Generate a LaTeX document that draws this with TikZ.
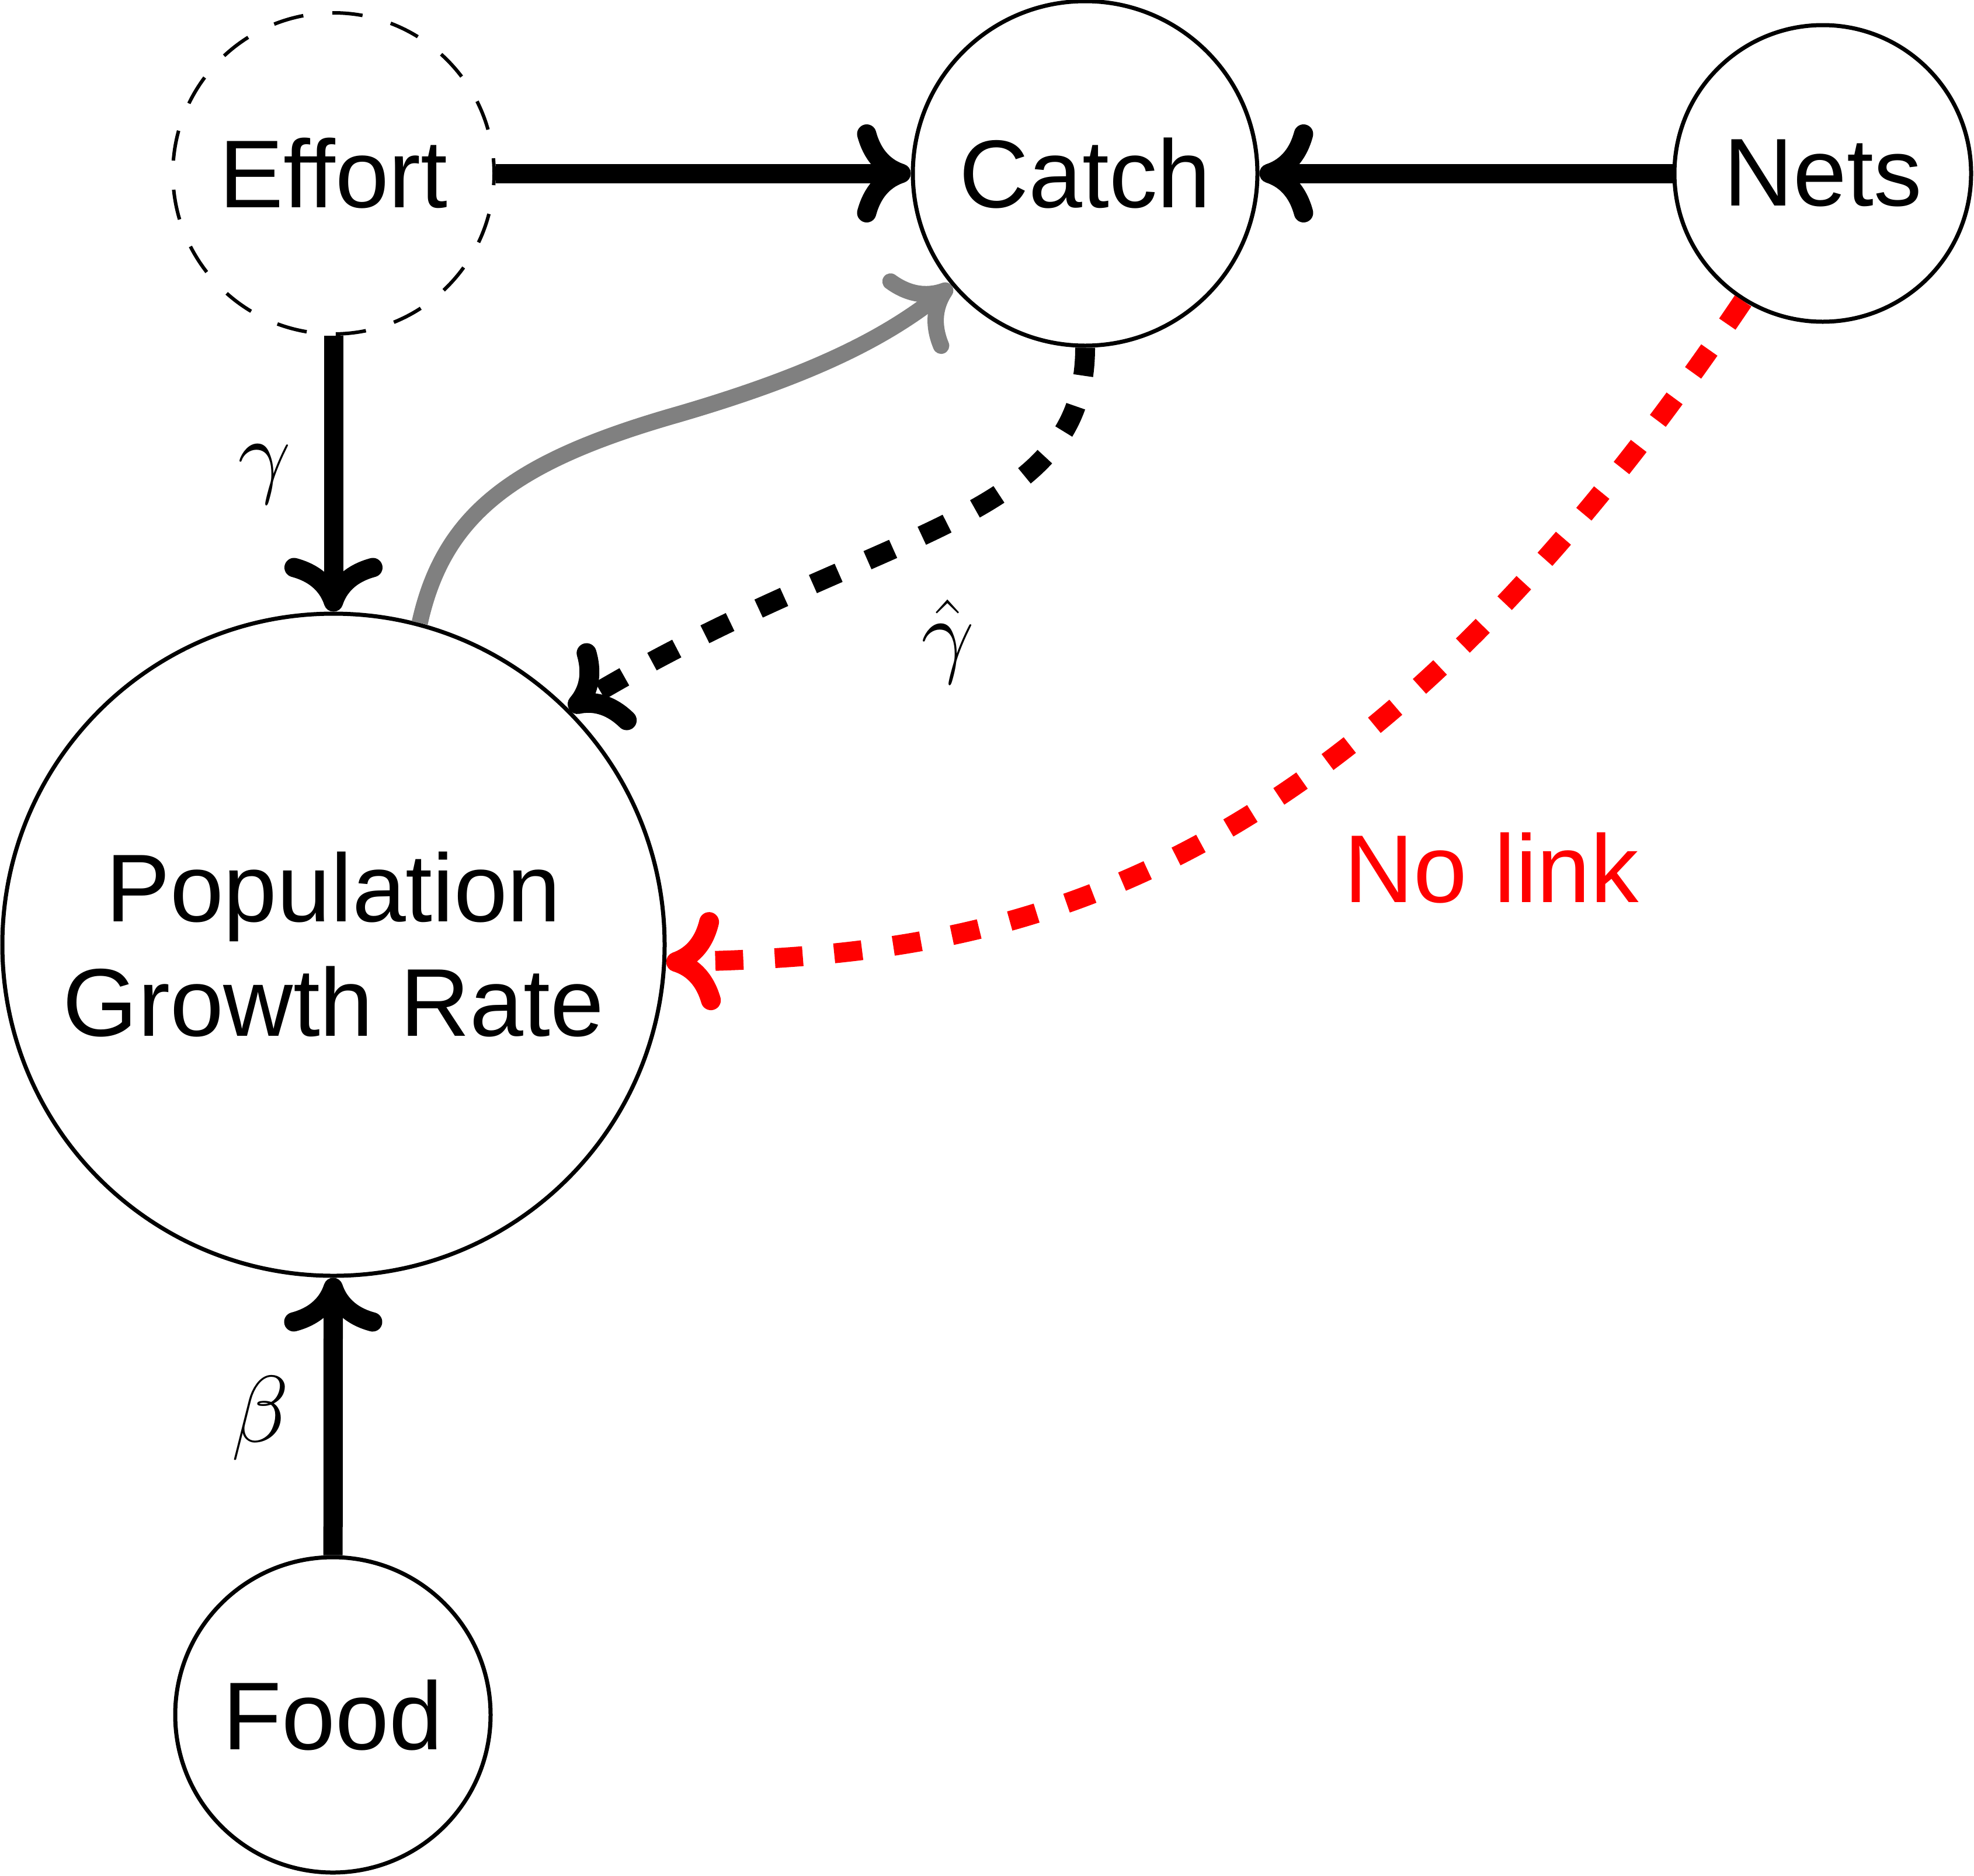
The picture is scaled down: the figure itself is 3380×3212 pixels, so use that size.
\documentclass[tikz,border=0pt]{standalone}
\usepackage{fontspec}
\setmainfont{Liberation Sans}
\usetikzlibrary{arrows.meta}
\begin{document}
\begin{tikzpicture}[x=1pt,y=-1pt,
  every node/.style={font=\fontsize{165}{196}\selectfont},
  vnode/.style={circle, draw, line width=7pt, inner sep=0pt, align=center},
  cmtip/.style={-{Computer Modern Rightarrow[length=92pt,width=168pt]}},
  solidarr/.style={cmtip, line width=33pt},
  greyarr/.style={cmtip, line width=28pt, draw=gray},
  dotarr/.style={cmtip, line width=34pt, dash pattern=on 48pt off 54pt},
  redarr/.style={dotarr, draw=red},
  lbl/.style={inner sep=0pt},
  mlbl/.style={inner sep=0pt, scale=6.51, font=\fontsize{24.88}{30}\selectfont}]
\useasboundingbox (0,0) rectangle (3380,3212);
\node[vnode, minimum size=550pt, line width=6pt, dash pattern=on 52pt off 50pt, dash phase=26pt] (effort) at (571,297) {Effort};
\node[vnode, minimum size=590pt] (catch) at (1858,297) {Catch};
\node[vnode, minimum size=508pt] (nets) at (3121,297) {Nets};
\node[vnode, minimum size=1134pt] (pop) at (571,1618) {Population\\Growth Rate};
\node[vnode, minimum size=540pt] (food) at (570,2937) {Food};
\node[mlbl] (g) at (453,812) {$\gamma$};
\node[mlbl] (b) at (446,2429) {$\beta$};
\node[mlbl] (gh) at (1623,1099) {$\hat{\gamma}$};
\node[lbl, text=red] (nl) at (2554,1487) {No link};
\draw[solidarr] (effort) -- (catch);
\draw[solidarr] (nets) -- (catch);
\draw[solidarr] (effort) -- (pop);
\draw[solidarr] (food) -- (pop);
\draw[greyarr] (pop.75) .. controls (760,880) and (880,790) .. (1160,710) .. controls (1400,640) and (1520,575) .. (catch.220);
\draw[dotarr] (catch.south) .. controls (1858,900) and (1500,900) .. (pop.45);
\draw[redarr] (nets.238) .. controls (2285,1555) and (1700,1635) .. (pop.-3);
\end{tikzpicture}
\end{document}
